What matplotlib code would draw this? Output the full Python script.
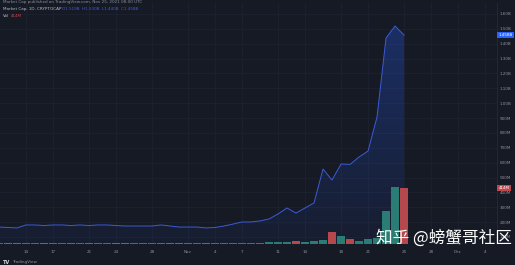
import numpy as np
import matplotlib
matplotlib.use("Agg")
import matplotlib.pyplot as plt
from matplotlib.patches import Polygon

# ---------------- data ----------------
# daily market cap (billions USD), Oct 11 -> Nov 25
market_cap = [0.167, 0.164, 0.161, 0.181, 0.181, 0.177, 0.181, 0.181, 0.177, 0.181,
              0.177, 0.181, 0.181, 0.177, 0.174, 0.174, 0.174, 0.174, 0.181, 0.174,
              0.167, 0.167, 0.167, 0.161, 0.164, 0.174, 0.187, 0.201, 0.201, 0.208,
              0.221, 0.255, 0.295, 0.261, 0.295, 0.329, 0.557, 0.483, 0.591, 0.588,
              0.638, 0.678, 0.907, 1.438, 1.519, 1.458]
# daily volume (millions USD)
volume = [6, 5, 7, 6, 5, 6, 5, 6, 5, 6,
          5, 6, 5, 6, 5, 6, 5, 6, 6, 5,
          6, 5, 6, 7, 6, 7, 8, 8, 9, 11,
          12, 15, 18, 19, 15, 22, 26, 89, 59, 37,
          22, 37, 44, 244, 422, 414]
x_tick_pos = [3, 6, 10, 13, 17, 21, 24, 27, 31, 34, 38, 41, 45, 48, 51, 54]
x_tick_labels = ["14", "17", "21", "24", "28", "Nov", "4", "7", "11", "14",
                 "18", "21", "25", "28", "Dec", "4"]
y_tick_vals = [0.1, 0.2, 0.3, 0.4, 0.5, 0.6, 0.7, 0.8, 0.9, 1.0,
               1.1, 1.2, 1.3, 1.4, 1.5, 1.6]
y_tick_labels = ["100M", "200M", "300M", "400M", "500M", "600M",
                 "700M", "800M", "900M", "1.00B", "1.10B", "1.20B",
                 "1.30B", "1.40B", "1.50B", "1.60B"]

# ---------------- style ----------------
BG = "#161a25"
GRID = "#1e2230"
TXT = "#8a8f9c"
LINE = "#3b5bd6"
TEAL = "#2a7d74"
RED = "#b4484c"

W, H = 515, 265
fig = plt.figure(figsize=(W / 100, H / 100), dpi=100, facecolor=BG)
ax = fig.add_axes([0, 21 / H, 497 / W, (H - 21 - 3) / H])
ax.set_facecolor(BG)

days = np.arange(len(market_cap))
mc = np.array(market_cap)

x0, x1 = 0.11, 55.33
y0 = 0.10 - 7 / 148.7
y1 = 0.10 + 234 / 148.7
ax.set_xlim(x0, x1)
ax.set_ylim(y0, y1)

# grid
for xt in x_tick_pos:
    ax.axvline(xt, color=GRID, lw=0.6, zorder=0)
for yt in y_tick_vals:
    ax.axhline(yt, color=GRID, lw=0.6, zorder=0)

# gradient fill under line
grad = np.linspace(0.05, 0.32, 256).reshape(-1, 1)
rgba = np.zeros((256, 1, 4))
rgba[..., 0] = 41 / 255
rgba[..., 1] = 98 / 255
rgba[..., 2] = 1.0
rgba[..., 3] = grad
im = ax.imshow(rgba, extent=[x0, x1, y0, y1], origin="lower", aspect="auto", zorder=1)
poly_pts = np.vstack([[days[0], y0], np.column_stack([days, mc]), [days[-1], y0]])
poly = Polygon(poly_pts, closed=True, facecolor="none", edgecolor="none")
ax.add_patch(poly)
im.set_clip_path(poly)

ax.plot(days, mc, color=LINE, lw=0.7, zorder=3)

# volume overlay
axv = ax.twinx()
axv.set_ylim(0, 241 * 7.4)
vol_colors = [TEAL] + [RED if market_cap[i] < market_cap[i - 1] else TEAL
                       for i in range(1, len(market_cap))]
axv.bar(days, volume, width=0.88, color=vol_colors, zorder=2)
axv.set_yticks([])
for s in axv.spines.values():
    s.set_visible(False)

# axes ticks
ax.set_xticks(x_tick_pos)
ax.set_xticklabels(x_tick_labels)
ax.yaxis.tick_right()
ax.set_yticks(y_tick_vals)
ax.set_yticklabels(y_tick_labels)
ax.tick_params(axis="both", length=0, labelsize=3.0, labelcolor=TXT, pad=4)
ax.tick_params(axis="y", pad=2)
for name, s in ax.spines.items():
    s.set_visible(False)
ax.spines["right"].set_visible(True)
ax.spines["right"].set_color("#262a36")
ax.spines["right"].set_linewidth(0.6)

# last value labels on the scale
ax.text(1.003, (mc[-1] - y0) / (y1 - y0), "1.458B", transform=ax.transAxes,
        fontsize=3.0, color="white", va="center", ha="left",
        bbox=dict(boxstyle="square,pad=0.25", fc="#2962ff", ec="none"))
ax.text(1.003, (414 / (241 * 7.4)), "414M", transform=ax.transAxes,
        fontsize=3.0, color="white", va="center", ha="left",
        bbox=dict(boxstyle="square,pad=0.25", fc="#c0474d", ec="none"))

# header texts
fig.text(3 / W, 1 - 2 / H, "Market Cap published on TradingView.com, Nov 25, 2021 08:00 UTC",
         fontsize=3.0, color=TXT, va="center")
fig.text(3 / W, 1 - 9 / H, "Market Cap, 1D, CRYPTOCAP", fontsize=3.0, color="#b8bcc6", va="center")
fig.text(62 / W, 1 - 9 / H, "O1.519B  H1.530B  L1.440B  C1.458B", fontsize=3.0,
         color="#3f5bd8", va="center")
fig.text(3 / W, 1 - 16 / H, "Vol", fontsize=3.0, color="#b8bcc6", va="center")
fig.text(11 / W, 1 - 16 / H, "414M", fontsize=3.0, color="#c0474d", va="center")

# footer logo
fig.text(3 / W, 3 / H, "TV", fontsize=3.6, color="#d1d4dc", weight="bold", va="center")
fig.text(12 / W, 3 / H, "TradingView", fontsize=3.0, color=TXT, va="center")

# watermark
fig.text(376 / W, 1 - 238 / H, "知乎 @螃蟹哥社区", fontsize=12,
         family=["Noto Sans CJK SC", "DejaVu Sans"], color="white", va="center", ha="left")

fig.savefig("out.png", dpi=100, facecolor=BG)
